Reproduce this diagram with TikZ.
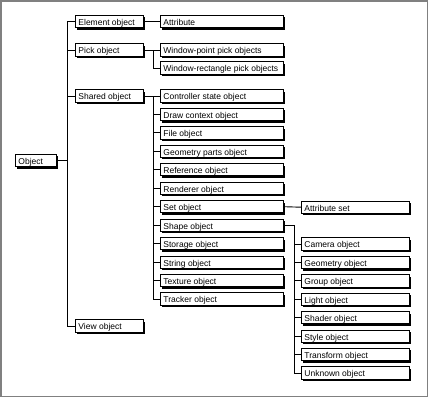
\documentclass[tikz,border=0pt]{standalone}
\usepackage{fontspec}
\setmainfont{Liberation Sans}
\usetikzlibrary{shadows}

\begin{document}
\begin{tikzpicture}[x=1pt, y=-1pt]
    \tikzstyle{obj}=[draw, line width=0.9pt, fill=white, anchor=west,
      minimum height=12.2pt, inner xsep=3pt, inner ysep=0pt,
      text height=8.2pt, text depth=0.3pt, font=\fontsize{8.5}{10}\selectfont,
      drop shadow={shadow xshift=2pt, shadow yshift=-2pt, fill=black, opacity=1}]
    \tikzset{wide/.style={execute at begin node={\hbox to #1\bgroup},
                          execute at end node={\hfil\egroup}}}
    \tikzstyle{w0}=[wide=35pt]
    \tikzstyle{w1}=[wide=62pt]
    \tikzstyle{w2}=[wide=117pt]
    \tikzstyle{w3}=[wide=102pt]
    \tikzstyle{link}=[line width=0.9pt]
    \useasboundingbox (0,0) rectangle (428,397);
    \draw[gray, line width=1.5pt] (0.75,0.75) rectangle (427.25,396.25);
    % root and first level
    \node[obj, w0] (object) at (15,160.5) {Object};
    \foreach \n/\y/\t in {element/21.5/Element object, pick/50/Pick object,
                          shared/96/Shared object, view/326/View object} {
      \node[obj, w1] (\n) at (75,\y) {\t};
    }
    % second level
    \node[obj, w2] (attr) at (160,21.5) {Attribute};
    \node[obj, w2] (wpoint) at (160,50) {Window-point pick objects};
    \node[obj, w2] (wrect) at (160,68) {Window-rectangle pick objects};
    \foreach \n/\t [count=\i from 0] in {ctrl/Controller state object,
        drawctx/Draw context object, file/File object,
        geomparts/Geometry parts object, ref/Reference object,
        rend/Renderer object, set/Set object, shape/Shape object,
        storage/Storage object, string/String object,
        texture/Texture object, tracker/Tracker object} {
      \node[obj, w2] (\n) at (160,{96+18.45*\i}) {\t};
    }
    % third level
    \node[obj, w3] (attrset) at (301,207.2) {Attribute set};
    \foreach \n/\t [count=\i from 0] in {camera/Camera object,
        geometry/Geometry object, group/Group object, light/Light object,
        shader/Shader object, style/Style object,
        transform/Transform object, unknown/Unknown object} {
      \node[obj, w3] (\n) at (301,{244+18.43*\i}) {\t};
    }
    % connectors
    \coordinate (t1) at (67,160.5);
    \coordinate (t2) at (153,0);
    \coordinate (t3) at (294,0);
    \draw[link] (object.east) -- (t1);
    \draw[link] (t1 |- element.west) -- (t1 |- view.west);
    \foreach \c in {element, pick, shared, view}
      \draw[link] (t1 |- \c.west) -- (\c.west);
    \draw[link] (element.east) -- (attr.west);
    \draw[link] (pick.east) -- (t2 |- pick.east) -- (t2 |- wrect.west);
    \foreach \c in {wpoint, wrect}
      \draw[link] (t2 |- \c.west) -- (\c.west);
    \draw[link] (shared.east) -- (t2 |- shared.east) -- (t2 |- tracker.west);
    \foreach \c in {ctrl, drawctx, file, geomparts, ref, rend, set, shape,
                    storage, string, texture, tracker}
      \draw[link] (t2 |- \c.west) -- (\c.west);
    \draw[link] (set.east) -- (attrset.west);
    \draw[link] (shape.east) -- (t3 |- shape.east) -- (t3 |- unknown.west);
    \foreach \c in {camera, geometry, group, light, shader, style,
                    transform, unknown}
      \draw[link] (t3 |- \c.west) -- (\c.west);
\end{tikzpicture}
\end{document}
